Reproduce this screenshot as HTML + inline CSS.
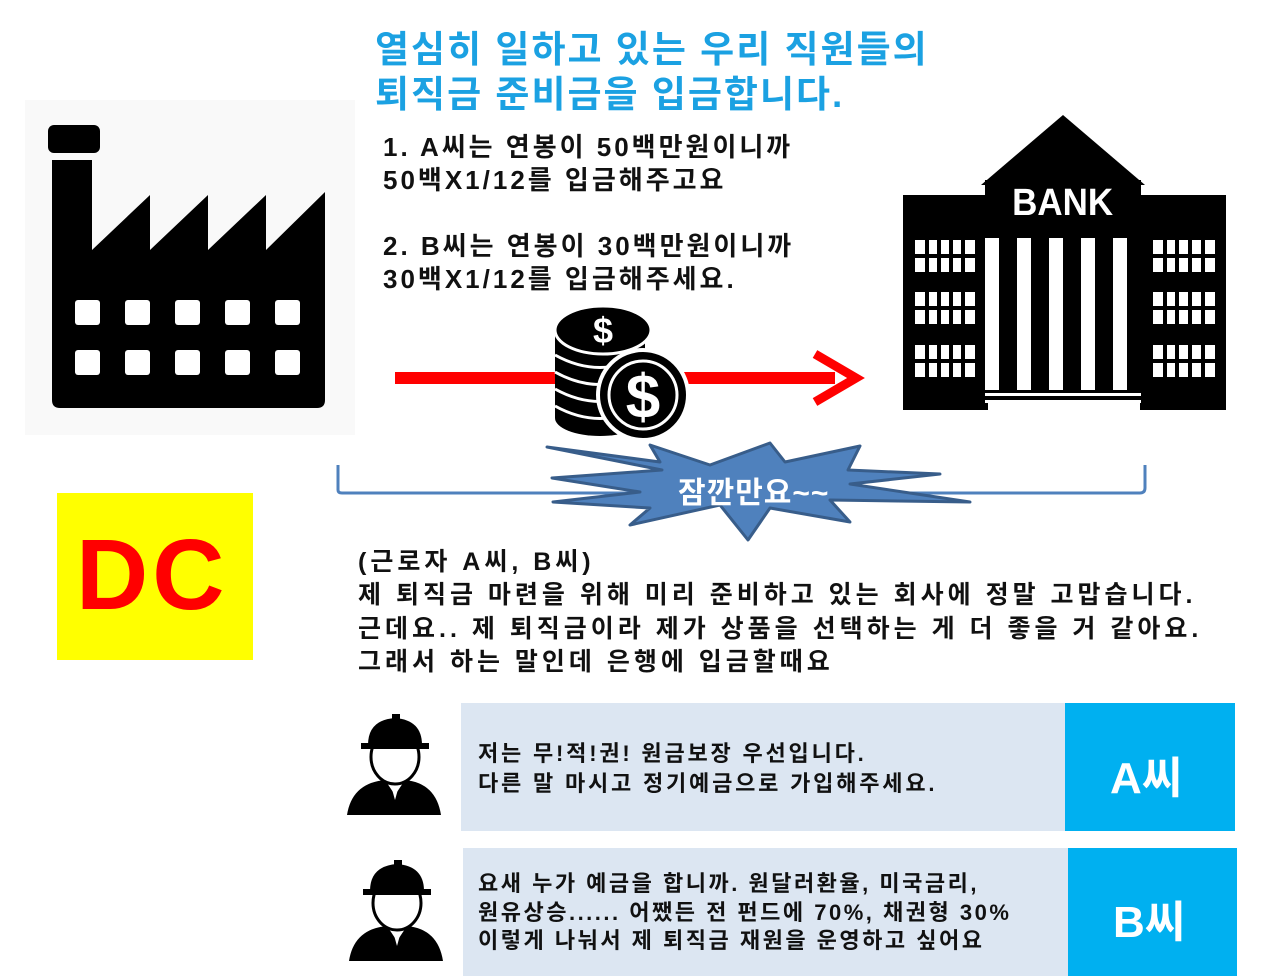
<!DOCTYPE html>
<html><head><meta charset="utf-8"><style>
body{margin:0;width:1280px;height:976px;background:#fff;position:relative;overflow:hidden;font-family:"Liberation Sans","Noto Sans CJK KR",sans-serif}
.t{position:absolute;white-space:nowrap}
</style></head><body>
<svg width="1280" height="976" style="position:absolute;left:0;top:0">
<rect x="25" y="100" width="330" height="335" fill="#f9f9f9"/>
<rect x="48" y="125" width="52" height="28" rx="6" fill="#000"/>
<path d="M52 160 H92 V250 L150 195 V250 L208 195 V250 L266 195 V250 L325 192 V400 Q325 408 317 408 H60 Q52 408 52 400 Z" fill="#000"/>
<g fill="#fff">
<rect x="75" y="300" width="25" height="25" rx="3"/><rect x="125" y="300" width="25" height="25" rx="3"/><rect x="175" y="300" width="25" height="25" rx="3"/><rect x="225" y="300" width="25" height="25" rx="3"/><rect x="275" y="300" width="25" height="25" rx="3"/>
<rect x="75" y="350" width="25" height="25" rx="3"/><rect x="125" y="350" width="25" height="25" rx="3"/><rect x="175" y="350" width="25" height="25" rx="3"/><rect x="225" y="350" width="25" height="25" rx="3"/><rect x="275" y="350" width="25" height="25" rx="3"/>
</g>
<polygon points="1063,115 1145,185 981,185" fill="#000"/>
<rect x="985" y="180" width="156" height="220" fill="#000"/>
<rect x="903" y="195" width="85" height="215" fill="#000"/>
<rect x="1140" y="195" width="86" height="215" fill="#000"/>
<g fill="#fff">
<rect x="985" y="238" width="14" height="152"/><rect x="1017" y="238" width="14" height="152"/><rect x="1049" y="238" width="14" height="152"/><rect x="1081" y="238" width="14" height="152"/><rect x="1113" y="238" width="14" height="152"/>
<rect x="985" y="393" width="156" height="3"/><rect x="985" y="400" width="156" height="3"/>
</g>
<g fill="#fff">
<rect x="915" y="240" width="60" height="32"/><rect x="915" y="292" width="60" height="32"/><rect x="915" y="345" width="60" height="32"/>
<rect x="1153" y="240" width="62" height="32"/><rect x="1153" y="292" width="62" height="32"/><rect x="1153" y="345" width="62" height="32"/>
</g>
<g stroke="#000" stroke-width="4">
<path d="M927 240V272M939 240V272M951 240V272M963 240V272M915 256H975M927 292V324M939 292V324M951 292V324M963 292V324M915 308H975M927 345V377M939 345V377M951 345V377M963 345V377M915 361H975"/>
<path d="M1165 240V272M1177 240V272M1190 240V272M1203 240V272M1153 256H1215M1165 292V324M1177 292V324M1190 292V324M1203 292V324M1153 308H1215M1165 345V377M1177 345V377M1190 345V377M1203 345V377M1153 361H1215"/>
</g>
<text x="1063" y="215" font-family="Liberation Sans" font-weight="bold" font-size="38" fill="#fff" text-anchor="middle" transform="scale(0.92,1) translate(92,0)">BANK</text>
<rect x="395" y="372" width="440" height="12" fill="#f00"/>
<path d="M815 354 L856 378 L815 402" stroke="#f00" stroke-width="9" fill="none"/>
<g>
<ellipse cx="600" cy="418" rx="45" ry="18" fill="#000"/>
<rect x="555" y="335" width="90" height="83" fill="#000"/>
<g stroke="#fff" stroke-width="3" fill="none"><path d="M555 355 Q600 380 645 355M555 372 Q600 397 645 372M555 389 Q600 414 645 389M555 406 Q600 431 645 406"/></g>
<ellipse cx="603" cy="330" rx="48" ry="24" fill="#000" stroke="#fff" stroke-width="3"/>
<text x="603" y="343" font-size="36" font-weight="bold" fill="#fff" text-anchor="middle" font-family="Liberation Sans">$</text>
<circle cx="643" cy="395" r="45" fill="#000" stroke="#fff" stroke-width="4"/>
<circle cx="643" cy="395" r="34" fill="none" stroke="#fff" stroke-width="3"/>
<text x="643" y="418" font-size="62" font-weight="bold" fill="#fff" text-anchor="middle" font-family="Liberation Sans">$</text>
</g>
<path d="M338 465 V490 Q338 493 342 493 H1140 Q1145 493 1145 488 V465" stroke="#4f81bd" stroke-width="3" fill="none"/>
<polygon points="547,447 662,470 552,478 640,492 553,502 650,508 630,525 720,505 748,540 770,508 850,522 830,500 970,502 850,484 940,474 848,470 860,446 785,462 770,443 710,465 650,445 660,462" fill="#4f81bd" stroke="#385d8a" stroke-width="3" stroke-linejoin="round"/>
</svg>
<div class="t" style="left:678px;top:468px;font-size:30px;font-weight:bold;color:#fff;letter-spacing:1px">잠깐만요~~</div>

<div class="t" style="left:375px;top:27px;font-size:37px;font-weight:bold;color:#1ba1e2;line-height:45px;letter-spacing:2px">열심히 일하고 있는 우리 직원들의<br>퇴직금 준비금을 입금합니다.</div>
<div class="t" style="left:383px;top:131px;font-size:26px;font-weight:bold;color:#111;line-height:33px;letter-spacing:3px">1. A씨는 연봉이 50백만원이니까<br>50백X1/12를 입금해주고요<br><br>2. B씨는 연봉이 30백만원이니까<br>30백X1/12를 입금해주세요.</div>

<div style="position:absolute;left:57px;top:493px;width:196px;height:167px;background:#ff0"></div>
<div class="t" style="left:76px;top:515px;font-size:100px;font-weight:bold;color:#f00;line-height:120px;letter-spacing:4px">DC</div>

<div class="t" style="left:358px;top:546px;font-size:25px;font-weight:bold;color:#111;line-height:33.3px;letter-spacing:4px">(근로자 A씨, B씨)<br>제 퇴직금 마련을 위해 미리 준비하고 있는 회사에 정말 고맙습니다.<br>근데요.. 제 퇴직금이라 제가 상품을 선택하는 게 더 좋을 거 같아요.<br>그래서 하는 말인데 은행에 입금할때요</div>

<div style="position:absolute;left:461px;top:703px;width:604px;height:128px;background:#dce6f2"></div>
<div style="position:absolute;left:1065px;top:703px;width:170px;height:128px;background:#00b0f0"></div>
<div class="t" style="left:1110px;top:742px;font-size:44px;font-weight:bold;color:#fff">A씨</div>
<div class="t" style="left:478px;top:739px;font-size:22px;font-weight:bold;color:#111;line-height:30px;letter-spacing:2.8px">저는 무!적!권! 원금보장 우선입니다.<br>다른 말 마시고 정기예금으로 가입해주세요.</div>

<div style="position:absolute;left:463px;top:848px;width:605px;height:128px;background:#dce6f2"></div>
<div style="position:absolute;left:1068px;top:848px;width:169px;height:128px;background:#00b0f0"></div>
<div class="t" style="left:1113px;top:886px;font-size:44px;font-weight:bold;color:#fff">B씨</div>
<div class="t" style="left:478px;top:870px;font-size:22px;font-weight:bold;color:#111;line-height:28.5px;letter-spacing:2.5px">요새 누가 예금을 합니까. 원달러환율, 미국금리,<br>원유상승...... 어쨌든 전 펀드에 70%, 채권형 30%<br>이렇게 나눠서 제 퇴직금 재원을 운영하고 싶어요</div>

<svg width="1280" height="976" style="position:absolute;left:0;top:0">
<g id="w">
<path d="M347 815 Q352 783 385 780 L395 795 L405 780 Q436 783 441 815 Z" fill="#000"/>
<path d="M390 782 L395 800 L400 782 Z" fill="#fff"/>
<ellipse cx="395" cy="757" rx="24" ry="27" fill="#fff" stroke="#000" stroke-width="3"/>
<path d="M368 745 Q368 720 395 718 Q422 720 422 745 Z" fill="#000"/>
<rect x="361" y="743" width="68" height="6" fill="#000"/>
<rect x="392" y="714" width="8" height="12" fill="#000"/>
</g>
<use href="#w" transform="translate(2,146)"/>
</svg>
</body></html>
